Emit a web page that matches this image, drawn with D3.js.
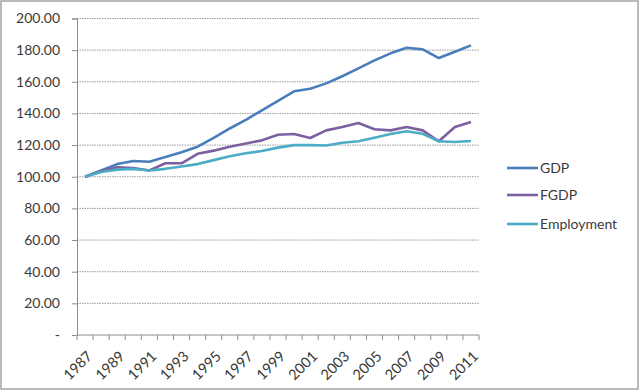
<!DOCTYPE html>
<html>
<head>
<meta charset="utf-8">
<script src="https://cdn.jsdelivr.net/npm/d3@7"></script>
<style>
  body { margin: 0; background: #fff; }
  text { font-family: Lato, 'Open Sans', sans-serif; fill: #3a3a3a; }
</style>
</head>
<body>
<script>
const years = ['1987', '1988', '1989', '1990', '1991', '1992', '1993', '1994', '1995', '1996',
  '1997', '1998', '1999', '2000', '2001', '2002', '2003', '2004', '2005', '2006',
  '2007', '2008', '2009', '2010', '2011'];

const gdp = [100, 104, 108, 110, 109.5, 112.5, 115.5, 119, 124.5, 130.5,
  136, 142, 148, 154, 155.6, 159, 163.5, 168.5, 173.5, 178,
  181.5, 180.5, 175, 179, 183];

const fgdp = [100, 103.5, 106, 105.5, 104, 108.5, 108.5, 114.5, 116.5, 119,
  121, 123, 126.5, 127, 124.5, 129.3, 131.4, 134, 130, 129.3,
  131.4, 129.3, 122.4, 131.4, 134.6];

const employment = [100, 103, 104.5, 105, 104, 105, 106.5, 108, 110.5, 113,
  114.8, 116.3, 118.4, 120, 120, 119.7, 121.5, 122.4, 124.6, 127,
  128.7, 127.2, 122.4, 122, 122.6];

const yTicks = [0, 20, 40, 60, 80, 100, 120, 140, 160, 180, 200];

const series = [
  { name: 'GDP', values: gdp, color: '#4a7ebb' },
  { name: 'FGDP', values: fgdp, color: '#7d60a0' },
  { name: 'Employment', values: employment, color: '#4bacc6' }
];

const margin = { top: 18.5, right: 161, bottom: 57, left: 77 };
const totalWidth = 640;
const totalHeight = 392;
const width = totalWidth - margin.left - margin.right;
const height = totalHeight - margin.top - margin.bottom;

const root = d3.select('body').append('svg')
    .attr('width', totalWidth)
    .attr('height', totalHeight);

// outer frame
root.append('rect')
  .attr('x', 1).attr('y', 1)
  .attr('width', totalWidth - 3).attr('height', totalHeight - 4)
  .attr('fill', 'none')
  .attr('stroke', '#8c8c8c')
  .attr('stroke-width', 1.2);

const svg = root.append('g')
    .attr('transform', `translate(${margin.left}, ${margin.top})`);

const x = d3.scaleBand()
  .domain(years)
  .range([0, width]);

const y = d3.scaleLinear()
  .domain([0, 200])
  .range([height, 0]);

// gridlines
svg.append('g')
  .selectAll('line')
  .data(yTicks.filter(d => d > 0))
  .join('line')
    .attr('x1', 0)
    .attr('x2', width)
    .attr('y1', d => y(d))
    .attr('y2', d => y(d))
    .attr('stroke', '#9a9a9a')
    .attr('stroke-dasharray', '1.5,1');

// y axis
const yAxis = d3.axisLeft(y)
  .tickValues(yTicks)
  .tickSize(5)
  .tickPadding(12)
  .tickFormat(d => d === 0 ? '-' : d3.format('.2f')(d));

svg.append('g')
  .attr('class', 'y-axis')
  .call(yAxis)
  .call(g => g.select('.domain').attr('stroke', '#8c8c8c'))
  .call(g => g.selectAll('.tick line').attr('stroke', '#8c8c8c'))
  .call(g => g.selectAll('.tick text')
    .attr('font-size', 14)
    .attr('fill', '#3a3a3a'));

// x axis: ticks on band boundaries, labels every other year
const xAxisG = svg.append('g')
  .attr('class', 'x-axis')
  .attr('transform', `translate(0, ${height})`);

xAxisG.append('line')
  .attr('x1', 0).attr('x2', width)
  .attr('stroke', '#8c8c8c');

xAxisG.selectAll('.xtick')
  .data(years.concat(['end']))
  .join('line')
    .attr('class', 'xtick')
    .attr('x1', (d, i) => i * x.step())
    .attr('x2', (d, i) => i * x.step())
    .attr('y1', 0)
    .attr('y2', 5)
    .attr('stroke', '#8c8c8c');

xAxisG.selectAll('.xlabel')
  .data(years.filter((d, i) => i % 2 === 0))
  .join('text')
    .attr('class', 'xlabel')
    .attr('font-size', 14.5)
    .attr('text-anchor', 'end')
    .attr('transform', d => `translate(${x(d) + x.bandwidth() / 2 + 1}, 15) rotate(-45)`)
    .attr('dy', '0.7em')
    .text(d => d);

// lines
const line = d3.line()
  .x((d, i) => x(years[i]) + x.bandwidth() / 2)
  .y(d => y(d));

svg.selectAll('.series')
  .data(series)
  .join('path')
    .attr('class', 'series')
    .attr('fill', 'none')
    .attr('stroke', d => d.color)
    .attr('stroke-width', 2.6)
    .attr('stroke-linejoin', 'round')
    .attr('d', d => line(d.values));

// legend
const legend = root.append('g')
  .attr('transform', 'translate(507, 168)');

const legendItem = legend.selectAll('g')
  .data(series)
  .join('g')
    .attr('transform', (d, i) => `translate(0, ${[0, 27, 56][i]})`);

legendItem.append('line')
  .attr('x1', 0).attr('x2', 31)
  .attr('stroke', d => d.color)
  .attr('stroke-width', 2.6);

legendItem.append('text')
  .attr('x', 33)
  .attr('dy', '0.35em')
  .attr('font-size', 14)
  .text(d => d.name);
</script>
</body>
</html>
